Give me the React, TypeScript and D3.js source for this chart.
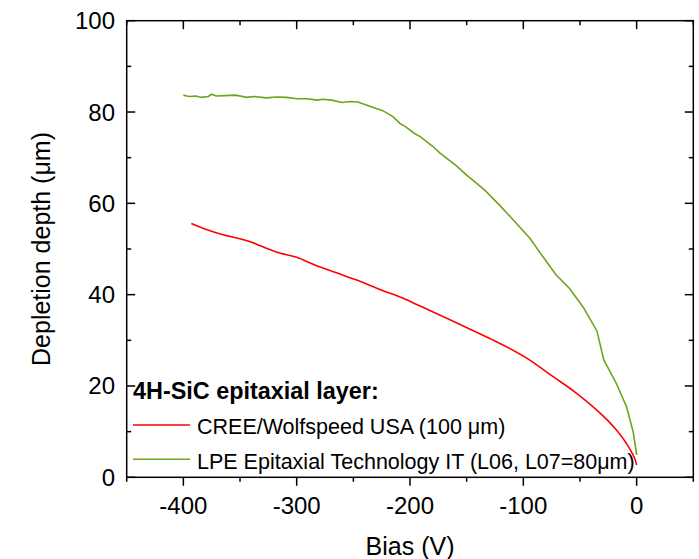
import React from "react";
import * as d3 from "d3";

const biasCree = [-393, -379, -365, -351, -341, -332, -315, -300, -285, -265, -247, -226, -206, -191, -168, -138, -127, -97, -74, -53, -32, -18, -9, -4, -1.5, 0];
const depthCree = [55.6, 54.2, 53.1, 52.3, 51.6, 50.7, 49.1, 48.2, 46.6, 44.8, 43.2, 41.1, 39.2, 37.5, 34.9, 31.4, 30.1, 26.1, 22.1, 18.4, 14.0, 10.4, 7.4, 5.3, 4.0, 2.7];

const biasLpe = [-400, -397, -394, -389, -384, -378, -375, -371, -363, -354, -344, -338, -327, -318, -309, -300, -291, -282, -277, -269, -260, -253, -246, -238, -229, -224, -215, -209, -204, -196, -191, -180, -174, -159, -150, -134, -121, -109, -94, -85, -71, -59, -47, -35, -29, -18, -9, -3, 0];
const depthLpe = [83.7, 83.5, 83.4, 83.5, 83.2, 83.4, 83.9, 83.5, 83.6, 83.7, 83.2, 83.4, 83.1, 83.3, 83.2, 82.9, 82.9, 82.6, 82.8, 82.6, 82.1, 82.3, 82.2, 81.5, 80.7, 80.3, 79.0, 77.5, 76.8, 75.3, 74.6, 72.5, 71.1, 68.2, 66.2, 62.9, 59.6, 56.4, 52.3, 49.1, 44.3, 41.3, 37.2, 32.0, 25.7, 20.6, 15.5, 9.9, 4.9];

const xTicks = [-400, -300, -200, -100, 0];
const xMinor = [-450, -350, -250, -150, -50, 50];
const yTicks = [0, 20, 40, 60, 80, 100];
const yMinor = [10, 30, 50, 70, 90];

const legendTitle = "4H-SiC epitaxial layer:";
const seriesNames = ["CREE/Wolfspeed USA (100 \u03bcm)", "LPE Epitaxial Technology IT (L06, L07=80\u03bcm)"];
const seriesColors = ["#ff0000", "#6ca41c"];

const W = 699, H = 559;
const L = 126.7, R = 693.3, T = 20.7, B = 477.3;
const FONT = "'Liberation Sans', Arial, sans-serif";

export default function App() {
  const x = d3.scaleLinear().domain([-450, 50]).range([L, R]);
  const y = d3.scaleLinear().domain([0, 100]).range([B, T]);
  const smooth = d3.line<[number, number]>().x(d => x(d[0])).y(d => y(d[1])).curve(d3.curveMonotoneX);
  const straight = d3.line<[number, number]>().x(d => x(d[0])).y(d => y(d[1]));
  const creeData = biasCree.map((b, i) => [b, depthCree[i]] as [number, number]);
  const lpeData = biasLpe.map((b, i) => [b, depthLpe[i]] as [number, number]);
  const maj = 8.5, mino = 4.5;
  const sw = 1.5;
  return (
    <svg width={W} height={H} style={{ position: "absolute", left: 0, top: 0, background: "#fff" }} fontFamily={FONT}>
      <rect x={0} y={0} width={W} height={H} fill="#fff" />
      <path d={smooth(creeData) || ""} fill="none" stroke={seriesColors[0]} strokeWidth={1.6} />
      <path d={straight(lpeData) || ""} fill="none" stroke={seriesColors[1]} strokeWidth={1.6} />
      <rect x={L} y={T} width={R - L} height={B - T} fill="none" stroke="#000" strokeWidth={sw} />
      {xTicks.map(t => (
        <line key={"bx" + t} x1={x(t)} x2={x(t)} y1={B} y2={B + maj} stroke="#000" strokeWidth={sw} />
      ))}
      {xMinor.map(t => (
        <line key={"bxm" + t} x1={x(t)} x2={x(t)} y1={B} y2={B + mino} stroke="#000" strokeWidth={sw} />
      ))}
      {xTicks.map(t => (
        <line key={"tx" + t} x1={x(t)} x2={x(t)} y1={T} y2={T + maj} stroke="#000" strokeWidth={sw} />
      ))}
      {xMinor.map(t => (
        <line key={"txm" + t} x1={x(t)} x2={x(t)} y1={T} y2={T + mino} stroke="#000" strokeWidth={sw} />
      ))}
      {yTicks.map(t => (
        <line key={"ly" + t} x1={L} x2={L + maj} y1={y(t)} y2={y(t)} stroke="#000" strokeWidth={sw} />
      ))}
      {yMinor.map(t => (
        <line key={"lym" + t} x1={L} x2={L + mino} y1={y(t)} y2={y(t)} stroke="#000" strokeWidth={sw} />
      ))}
      {yTicks.map(t => (
        <line key={"ry" + t} x1={R} x2={R - maj} y1={y(t)} y2={y(t)} stroke="#000" strokeWidth={sw} />
      ))}
      {yMinor.map(t => (
        <line key={"rym" + t} x1={R} x2={R - mino} y1={y(t)} y2={y(t)} stroke="#000" strokeWidth={sw} />
      ))}
      {xTicks.map(t => (
        <text key={"xl" + t} x={x(t)} y={514} textAnchor="middle" fontSize={24} fill="#000">{t}</text>
      ))}
      {yTicks.map(t => (
        <text key={"yl" + t} x={115} y={y(t) + 8.5} textAnchor="end" fontSize={24} fill="#000">{t}</text>
      ))}
      <text x={(L + R) / 2} y={555} textAnchor="middle" fontSize={25} fill="#000">Bias (V)</text>
      <text transform={`translate(50,${(T + B) / 2}) rotate(-90)`} textAnchor="middle" fontSize={25} fill="#000">Depletion depth ({"\u03bc"}m)</text>
      <text x={133} y={399} fontSize={23.4} fontWeight="bold" fill="#000">{legendTitle}</text>
      <line x1={133} x2={190} y1={425} y2={425} stroke={seriesColors[0]} strokeWidth={1.6} />
      <text x={197} y={434} fontSize={21.5} fill="#000">{seriesNames[0]}</text>
      <line x1={133} x2={190} y1={459.3} y2={459.3} stroke={seriesColors[1]} strokeWidth={1.6} />
      <text x={197} y={469.3} fontSize={21.5} fill="#000">{seriesNames[1]}</text>
    </svg>
  );
}
